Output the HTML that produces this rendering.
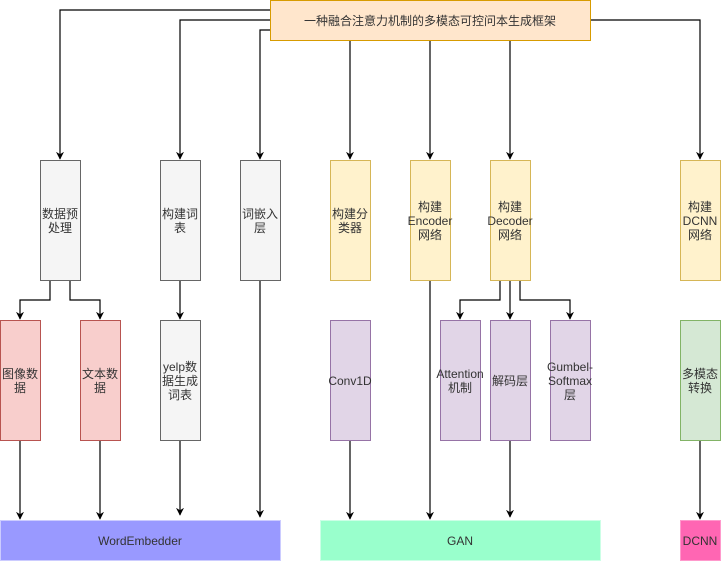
<!DOCTYPE html>
<html><head><meta charset="utf-8"><style>
html,body{margin:0;padding:0;background:#fff;}
svg{display:block;}
text{font-family:"Liberation Sans","Noto Sans CJK SC",sans-serif;font-size:12px;fill:#333;text-anchor:middle;}
</style></head><body>
<svg width="721" height="561" viewBox="0 0 721 561" xmlns="http://www.w3.org/2000/svg">
<defs><marker id="a" markerWidth="8" markerHeight="8" refX="4" refY="7" orient="auto" markerUnits="userSpaceOnUse"><path d="M0,0 L4,7 L8,0 L4,3 Z" fill="#000"/></marker>
<marker id="b" viewBox="0 0 10 10" refX="9" refY="5" markerWidth="8" markerHeight="9" orient="auto" markerUnits="userSpaceOnUse"><path d="M0,0 L10,5 L0,10 L3,5 Z" fill="#000"/></marker></defs>
<g fill="none" stroke="#000" stroke-width="1.2" marker-end="url(#b)">
<path d="M270,10 H60 V159"/>
<path d="M270,20 H180 V159"/>
<path d="M270,30 H260 V159"/>
<path d="M350,40 V159"/>
<path d="M430,40 V159"/>
<path d="M510,40 V159"/>
<path d="M590,20 H700 V159"/>
<path d="M50,280 V300 H20 V319"/>
<path d="M70,280 V300 H100 V319"/>
<path d="M180,280 V319"/>
<path d="M500,280 V300 H460 V319"/>
<path d="M510,280 V319"/>
<path d="M520,280 V300 H570 V319"/>
<path d="M20,440 V519"/>
<path d="M100,440 V519"/>
<path d="M180,440 V515"/>
<path d="M260,280 V517"/>
<path d="M350,440 V519"/>
<path d="M430,280 V519"/>
<path d="M510,440 V517"/>
<path d="M700,440 V519"/>
</g>
<rect x="270.5" y="0.5" width="320" height="40" fill="#ffe6cc" stroke="#d79b00"/>
<text x="430" y="25">一种融合注意力机制的多模态可控问本生成框架</text>
<g stroke="#666" fill="#f5f5f5">
<rect x="40.5" y="160.5" width="40" height="120"/>
<rect x="160.5" y="160.5" width="40" height="120"/>
<rect x="240.5" y="160.5" width="40" height="120"/>
<rect x="160.5" y="320.5" width="40" height="120"/>
</g>
<g stroke="#d6b656" fill="#fff2cc">
<rect x="330.5" y="160.5" width="40" height="120"/>
<rect x="410.5" y="160.5" width="40" height="120"/>
<rect x="490.5" y="160.5" width="40" height="120"/>
<rect x="680.5" y="160.5" width="40" height="120"/>
</g>
<g stroke="#b85450" fill="#f8cecc">
<rect x="0.5" y="320.5" width="40" height="120"/>
<rect x="80.5" y="320.5" width="40" height="120"/>
</g>
<g stroke="#9673a6" fill="#e1d5e7">
<rect x="330.5" y="320.5" width="40" height="120"/>
<rect x="440.5" y="320.5" width="40" height="120"/>
<rect x="490.5" y="320.5" width="40" height="120"/>
<rect x="550.5" y="320.5" width="40" height="120"/>
</g>
<rect x="680.5" y="320.5" width="40" height="120" fill="#d5e8d4" stroke="#82b366"/>
<rect x="0.5" y="520.5" width="280" height="40" fill="#9999ff" stroke="#ccccff"/>
<rect x="320.5" y="520.5" width="280" height="40" fill="#99ffcc" stroke="#ccffe6"/>
<rect x="680.5" y="520.5" width="40" height="40" fill="#ff66b3" stroke="#ff99cc"/>
<text x="60" y="218">数据预</text><text x="60" y="232">处理</text>
<text x="180" y="218">构建词</text><text x="180" y="232">表</text>
<text x="260" y="218">词嵌入</text><text x="260" y="232">层</text>
<text x="350" y="218">构建分</text><text x="350" y="232">类器</text>
<text x="430" y="211">构建</text><text x="430" y="225">Encoder</text><text x="430" y="239">网络</text>
<text x="510" y="211">构建</text><text x="510" y="225">Decoder</text><text x="510" y="239">网络</text>
<text x="700" y="211">构建</text><text x="700" y="225">DCNN</text><text x="700" y="239">网络</text>
<text x="20" y="378">图像数</text><text x="20" y="392">据</text>
<text x="100" y="378">文本数</text><text x="100" y="392">据</text>
<text x="180" y="371">yelp数</text><text x="180" y="385">据生成</text><text x="180" y="399">词表</text>
<text x="350" y="385">Conv1D</text>
<text x="460" y="378">Attention</text><text x="460" y="392">机制</text>
<text x="510" y="385">解码层</text>
<text x="570" y="371">Gumbel-</text><text x="570" y="385">Softmax</text><text x="570" y="399">层</text>
<text x="700" y="378">多模态</text><text x="700" y="392">转换</text>
<text x="140" y="545">WordEmbedder</text>
<text x="460" y="545">GAN</text>
<text x="700" y="545">DCNN</text>
</svg>
</body></html>
